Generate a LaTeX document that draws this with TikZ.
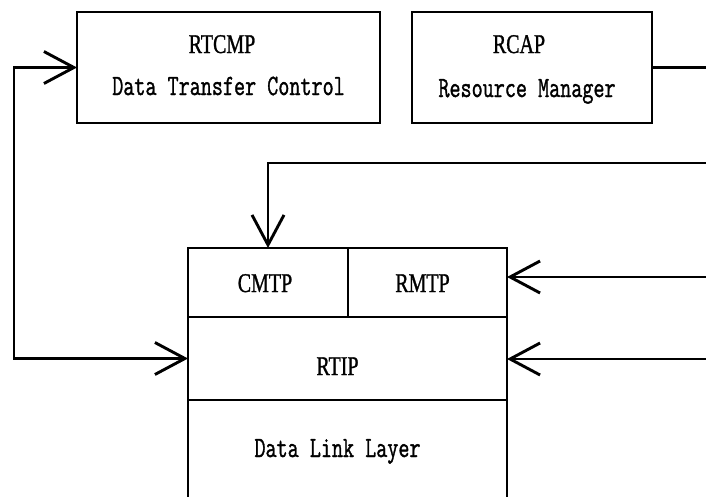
\documentclass[tikz,border=0pt]{standalone}
\usepackage{fontspec}
\usepackage{graphicx}
\usetikzlibrary{arrows.meta}
\newfontfamily\headfont[FakeBold=1.2]{Liberation Serif}
\newfontfamily\descfont[FakeBold=1.4]{Latin Modern Mono}
% condensed serif capitals for the module names, tall mono for descriptions
\newcommand\headtext[1]{\scalebox{0.74}[1]{\fontsize{27}{30}\selectfont\headfont #1}}
\newcommand\bodytext[1]{\scalebox{1}[1.37]{\fontsize{21.5}{24}\selectfont\descfont #1}}

\begin{document}
\begin{tikzpicture}[x=1pt,y=-1pt,line width=2.9pt,
  box/.style={draw,rectangle,inner sep=0pt,outer sep=0pt},
  lbl/.style={inner sep=0pt,anchor=base},
  tip/.style={-{Straight Barb[length=30pt,width=32pt]}},
  tips/.style={{Straight Barb[length=30pt,width=32pt]}-{Straight Barb[length=30pt,width=32pt]}}]
\useasboundingbox (0,0) rectangle (706,496);
\clip (0,0) rectangle (706,496);

% upper application modules
\node[box,minimum width=303pt,minimum height=111pt] (rtcmp) at (228.5,67.5) {};
\node[box,minimum width=240pt,minimum height=111pt] (rcap) at (532,67.5) {};
\node[lbl] (rtcmpname) at (222,53) {\headtext{RTCMP}};
\node[lbl] (rtcmpdesc) at (228.5,95) {\bodytext{Data Transfer Control}};
\node[lbl] (rcapname) at (519,53) {\headtext{RCAP}};
\node[lbl] (rcapdesc) at (527,97) {\bodytext{Resource Manager}};

% protocol stack
\node[box,minimum width=160pt,minimum height=69pt] (cmtp) at (268,282.5) {};
\node[box,minimum width=159pt,minimum height=69pt] (rmtp) at (427.5,282.5) {};
\node[box,minimum width=319pt,minimum height=83pt] (rtip) at (347.5,358.5) {};
\node[box,minimum width=319pt,minimum height=130pt] (dll) at (347.5,465) {};
\node[lbl] (cmtpname) at (265,292) {\headtext{CMTP}};
\node[lbl] (rmtpname) at (422.5,292) {\headtext{RMTP}};
\node[lbl] (rtipname) at (337.5,375) {\headtext{RTIP}};
\node[lbl] (dllname) at (337.5,457) {\bodytext{Data Link Layer}};

% connectors
\coordinate (rcapout) at (706,66);
\coordinate (busin) at (706,163);
\coordinate (rmtpin) at (706,277);
\coordinate (rtipin) at (706,359);
\coordinate (loopx) at (14,0);

\draw (rcap.east) -- (rcap.east -| rcapout);
\draw[tip] (busin) -| (cmtp.north);
\draw[tip] (rmtpin) -- (rmtpin -| rmtp.east);
\draw[tip] (rtipin) -- (rtipin -| rtip.east);
\draw[tips] (rtcmp.west) -- (rtcmp.west -| loopx) |- (rtip.west);
\end{tikzpicture}
\end{document}
